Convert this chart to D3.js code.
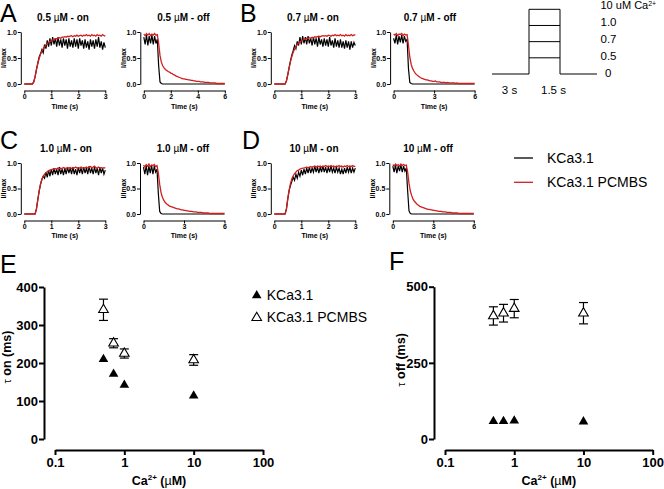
<!DOCTYPE html>
<html>
<head>
<meta charset="utf-8">
<script src="https://cdn.jsdelivr.net/npm/d3@7"></script>
<style>
  body { margin: 0; background: #fff; }
  svg { font-family: Arial, "Liberation Sans", sans-serif; }
</style>
</head>
<body>
<div id="chart"></div>
<script>
// sampling of the traces (s)
var onStep = 0.05;
var offStep = 0.1;

var concLabels = ["0.5", "0.7", "1.0", "10"];
var seriesNames = ["KCa3.1", "KCa3.1 PCMBS"];
var onTicks = [0, 1, 2, 3];
var offTicksA = [0, 2, 4, 6];
var offTicks = [0, 3, 6];

// normalized current traces (I/Imax)
var aOnBlack = [0,0,0,0,0,0,0,
  0.04,0.14,0.28,0.40,0.52,0.58,0.66,0.60,0.76,0.68,
  0.84,0.72,0.88,0.74,0.90,0.76,0.88,0.72,0.90,0.74,
  0.86,0.70,0.88,0.74,0.86,0.68,0.88,0.72,0.84,0.70,
  0.88,0.72,0.86,0.68,0.88,0.74,0.84,0.68,0.86,0.70,
  0.82,0.66,0.86,0.72,0.84,0.68,0.86,0.72,0.90,0.70,
  0.82,0.66,0.80,0.70];
var aOnRed = [0,0,0,0,0,0,0,
  0.04,0.14,0.27,0.39,0.49,0.57,0.63,0.68,0.72,0.75,
  0.78,0.80,0.82,0.83,0.85,0.85,0.87,0.87,0.88,0.89,
  0.88,0.90,0.90,0.91,0.90,0.92,0.91,0.92,0.93,0.91,
  0.93,0.92,0.94,0.92,0.93,0.94,0.92,0.94,0.93,0.95,
  0.93,0.94,0.92,0.95,0.93,0.94,0.92,0.95,0.93,0.94,
  0.92,0.95,0.93,0.92];
var aOffBlack = [0.90,0.76,0.94,0.74,0.92,0.78,0.94,0.76,0.92,0.78,
  0.86,0.35,0.04,0.01,0,0,0,0,0,0,
  0,0,0,0,0,0,0,0,0,0, 0,0,0,0,0,0,0,0,0,0,
  0,0,0,0,0,0,0,0,0,0, 0,0,0,0,0,0,0,0,0,0, 0];
var aOffRed = [0.96,0.93,0.97,0.94,0.97,0.93,0.96,0.94,0.97,0.94,
  0.95,0.78,0.55,0.42,0.35,0.31,0.28,0.26,0.24,0.23,
  0.21,0.20,0.18,0.17,0.15,0.14,0.13,0.12,0.11,0.10,
  0.10,0.09,0.09,0.08,0.08,0.07,0.07,0.06,0.06,0.05,
  0.05,0.05,0.04,0.04,0.04,0.03,0.03,0.03,0.03,0.02,
  0.02,0.02,0.02,0.02,0.01,0.01,0.01,0.01,0.01,0.01, 0.01];

var bOnBlack = [0,0,0,0,0,0,0,0,0,
  0.06,0.18,0.32,0.45,0.56,0.64,0.74,0.68,0.82,0.74,
  0.90,0.76,0.92,0.78,0.90,0.76,0.92,0.78,0.88,0.74,
  0.90,0.76,0.88,0.72,0.90,0.76,0.86,0.72,0.88,0.74,
  0.86,0.72,0.90,0.74,0.84,0.70,0.88,0.72,0.84,0.70,
  0.86,0.70,0.82,0.68,0.84,0.70,0.82,0.66,0.82,0.70,
  0.80,0.74];
var bOnRed = [0,0,0,0,0,0,0,0,0,
  0.06,0.18,0.31,0.43,0.53,0.61,0.67,0.72,0.76,0.79,
  0.81,0.83,0.84,0.86,0.86,0.88,0.87,0.89,0.88,0.90,
  0.89,0.91,0.90,0.91,0.92,0.91,0.92,0.93,0.92,0.93,
  0.92,0.94,0.93,0.92,0.94,0.93,0.95,0.93,0.94,0.93,
  0.95,0.93,0.94,0.92,0.95,0.93,0.94,0.93,0.95,0.93,
  0.94,0.95];
var bOffBlack = [0.88,0.78,0.94,0.76,0.92,0.80,0.94,0.78,0.92,0.82,
  0.86,0.30,0.03,0.01,0,0,0,0,0,0,
  0,0,0,0,0,0,0,0,0,0, 0,0,0,0,0,0,0,0,0,0,
  0,0,0,0,0,0,0,0,0,0, 0,0,0,0,0,0,0,0,0,0, 0];
var bOffRed = [0.96,0.94,0.97,0.93,0.96,0.95,0.97,0.93,0.96,0.94,
  0.95,0.75,0.52,0.38,0.30,0.25,0.21,0.18,0.16,0.14,
  0.12,0.11,0.10,0.09,0.08,0.08,0.07,0.06,0.06,0.05,
  0.05,0.06,0.04,0.04,0.04,0.03,0.03,0.03,0.03,0.02,
  0.03,0.02,0.02,0.02,0.02,0.02,0.01,0.02,0.01,0.01,
  0.01,0.01,0.01,0.01,0.01,0.01,0.01,0.01,0.01,0.01, 0.01];

var cOnBlack = [0,0,0,0,0,0,0,0,0,
  0.10,0.28,0.45,0.58,0.68,0.74,0.70,0.82,0.72,0.86,
  0.74,0.88,0.76,0.90,0.78,0.88,0.76,0.92,0.78,0.88,
  0.76,0.90,0.78,0.92,0.80,0.90,0.78,0.92,0.78,0.88,
  0.76,0.92,0.80,0.90,0.78,0.92,0.80,0.90,0.78,0.94,
  0.80,0.90,0.78,0.92,0.80,0.90,0.76,0.92,0.80,0.90,
  0.78,0.86];
var cOnRed = [0,0,0,0,0,0,0,0,0,
  0.10,0.28,0.45,0.58,0.67,0.74,0.78,0.81,0.83,0.85,
  0.86,0.87,0.88,0.88,0.89,0.88,0.90,0.89,0.90,0.89,
  0.91,0.90,0.89,0.91,0.90,0.91,0.89,0.91,0.90,0.92,
  0.90,0.91,0.90,0.92,0.90,0.91,0.90,0.92,0.90,0.91,
  0.93,0.91,0.92,0.94,0.91,0.90,0.92,0.90,0.91,0.90,
  0.91,0.90];
var cOffBlack = [0.92,0.78,0.95,0.76,0.94,0.80,0.95,0.78,0.94,0.82,
  0.88,0.40,0.05,0.01,0,0,0,0,0,0,
  0,0,0,0,0,0,0,0,0,0, 0,0,0,0,0,0,0,0,0,0,
  0,0,0,0,0,0,0,0,0,0, 0,0,0,0,0,0,0,0,0,0, 0];
var cOffRed = [0.96,0.92,0.97,0.94,0.98,0.93,0.96,0.95,0.97,0.93,
  0.95,0.80,0.58,0.42,0.33,0.27,0.23,0.20,0.18,0.16,
  0.15,0.14,0.13,0.12,0.11,0.10,0.10,0.09,0.08,0.08,
  0.07,0.07,0.06,0.06,0.05,0.05,0.05,0.04,0.04,0.04,
  0.03,0.03,0.03,0.03,0.02,0.02,0.02,0.02,0.02,0.01,
  0.01,0.01,0.01,0.01,0.01,0.01,0.01,0.01,0.01,0.01, 0.01];

var dOnBlack = [0,0,0,0,0,0,0,0,0,
  0.10,0.30,0.46,0.56,0.64,0.72,0.66,0.78,0.70,0.82,
  0.74,0.86,0.76,0.88,0.78,0.90,0.80,0.92,0.80,0.90,
  0.82,0.94,0.82,0.92,0.80,0.92,0.82,0.94,0.82,0.92,
  0.80,0.92,0.82,0.94,0.82,0.90,0.80,0.92,0.82,0.90,
  0.78,0.88,0.78,0.90,0.80,0.92,0.82,0.92,0.80,0.90,
  0.82,0.90];
var dOnRed = [0,0,0,0,0,0,0,0,0,
  0.10,0.30,0.47,0.60,0.69,0.75,0.79,0.82,0.85,0.86,
  0.88,0.89,0.90,0.90,0.91,0.92,0.91,0.92,0.93,0.92,
  0.93,0.94,0.92,0.94,0.93,0.94,0.92,0.94,0.93,0.95,
  0.93,0.94,0.93,0.95,0.93,0.94,0.92,0.94,0.93,0.95,
  0.93,0.94,0.92,0.94,0.93,0.95,0.93,0.94,0.93,0.95,
  0.93,0.94];
var dOffBlack = [0.94,0.82,0.96,0.80,0.94,0.84,0.96,0.82,0.94,0.84,
  0.90,0.45,0.06,0.01,0,0,0,0,0,0,
  0,0,0,0,0,0,0,0,0,0, 0,0,0,0,0,0,0,0,0,0,
  0,0,0,0,0,0,0,0,0,0, 0,0,0,0,0,0,0,0,0,0, 0];
var dOffRed = [0.97,0.94,0.98,0.95,0.97,0.94,0.98,0.95,0.97,0.95,
  0.96,0.82,0.60,0.45,0.36,0.29,0.25,0.22,0.19,0.17,
  0.15,0.14,0.13,0.12,0.11,0.10,0.09,0.09,0.08,0.08,
  0.07,0.07,0.06,0.06,0.05,0.05,0.05,0.04,0.04,0.04,
  0.03,0.03,0.03,0.03,0.02,0.02,0.02,0.02,0.02,0.01,
  0.01,0.01,0.01,0.01,0.01,0.01,0.01,0.01,0.01,0.01, 0.01];

// time constants vs [Ca2+]
var concentrations = [0.5, 0.7, 1, 10];
var tauOnKCa = [210, 171, 142, 114];
var tauOnPCMBS = [340, 252, 225, 208];
var tauOnPCMBSErr = [28, 12, 12, 14];
var tauOffKCa = [58, 58, 60, 57];
var tauOffPCMBS = [404, 413, 428, 413];
var tauOffPCMBSErr = [30, 29, 30, 35];
var caTicks = [0.1, 1, 10, 100];

// stimulation protocol
var protocolLevels = ["10 uM Ca", "1.0", "0.7", "0.5", "0"];
var protocolTimes = [0, 3, 4.5, 7.5];
var protocolDurations = ["3 s", "1.5 s"];

var RED = "#d01f1f";

var svg = d3.select("#chart").append("svg")
  .attr("width", 664)
  .attr("height", 489);

function styleAxis(g, size, weight, width) {
  g.selectAll("path, line").attr("stroke", "#000").attr("stroke-width", width);
  g.selectAll("text")
    .attr("font-family", "Arial, 'Liberation Sans', sans-serif")
    .attr("font-size", size)
    .attr("font-weight", weight)
    .attr("fill", "#000");
}

// ---------- small trace panels ----------
var rows = [
  {yTop: 32, yBottom: 84, axisY: 90.5, titleY: 21, labelY: 108.5},
  {yTop: 163, yBottom: 214, axisY: 220.5, titleY: 152, labelY: 237.5}
];

var smallPanels = [
  {row: 0, x0: 24.3, kind: "on", c: 0, black: aOnBlack, red: aOnRed, ticks: onTicks, tx: 63},
  {row: 0, x0: 143.8, kind: "off", c: 0, black: aOffBlack, red: aOffRed, ticks: offTicksA, tx: 183.5},
  {row: 0, x0: 274.3, kind: "on", c: 1, black: bOnBlack, red: bOnRed, ticks: onTicks, tx: 313},
  {row: 0, x0: 393.6, kind: "off", c: 1, black: bOffBlack, red: bOffRed, ticks: offTicks, tx: 430},
  {row: 1, x0: 24.3, kind: "on", c: 2, black: cOnBlack, red: cOnRed, ticks: onTicks, tx: 66},
  {row: 1, x0: 143.5, kind: "off", c: 2, black: cOffBlack, red: cOffRed, ticks: offTicks, tx: 183},
  {row: 1, x0: 274.3, kind: "on", c: 3, black: dOnBlack, red: dOnRed, ticks: onTicks, tx: 314},
  {row: 1, x0: 392.8, kind: "off", c: 3, black: dOffBlack, red: dOffRed, ticks: offTicks, tx: 428}
];

smallPanels.forEach(function(p) {
  var r = rows[p.row];
  var xMax = p.kind === "on" ? 3 : 6;
  var step = p.kind === "on" ? onStep : offStep;
  var x = d3.scaleLinear().domain([0, xMax]).range([p.x0, p.x0 + 81]);
  var y = d3.scaleLinear().domain([0, 1]).range([r.yBottom, r.yTop]);
  var g = svg.append("g");

  var line = d3.line()
    .x(function(d, i) { return x(i * step); })
    .y(function(d) { return y(d); });

  g.append("path").datum(p.black)
    .attr("d", line).attr("fill", "none")
    .attr("stroke", "#000").attr("stroke-width", 1.2)
    .attr("stroke-linejoin", "miter");
  g.append("path").datum(p.red)
    .attr("d", line).attr("fill", "none")
    .attr("stroke", RED).attr("stroke-width", 1.3);

  var yAx = g.append("g")
    .attr("transform", "translate(" + (p.x0 - 3.5) + ",0)")
    .call(d3.axisLeft(y).tickValues([0, 0.5, 1]).tickFormat(d3.format(".1f"))
      .tickSize(3).tickSizeOuter(0).tickPadding(1));
  styleAxis(yAx, 7, "bold", 1);

  var xAx = g.append("g")
    .attr("transform", "translate(0," + r.axisY + ")")
    .call(d3.axisBottom(x).tickValues(p.ticks).tickFormat(d3.format("d"))
      .tickSize(3).tickSizeOuter(0).tickPadding(1));
  styleAxis(xAx, 7, "bold", 1);

  g.append("text")
    .attr("x", p.x0 + 40.5).attr("y", r.labelY)
    .attr("text-anchor", "middle")
    .attr("font-size", 7).attr("font-weight", "bold")
    .text("Time (s)");

  g.append("text")
    .attr("transform", "translate(" + (p.x0 - 18) + "," + ((r.yTop + r.yBottom) / 2) + ") rotate(-90)")
    .attr("text-anchor", "middle")
    .attr("font-size", 7).attr("font-weight", "bold")
    .text("I/Imax");

  var t = g.append("text")
    .attr("x", p.tx).attr("y", r.titleY)
    .attr("text-anchor", "middle")
    .attr("font-size", 10).attr("font-weight", "bold");
  t.append("tspan").text(concLabels[p.c] + " ");
  t.append("tspan").attr("font-weight", "normal").text("\u00b5");
  t.append("tspan").text("M - " + p.kind);
});

// panel letters
var letters = [
  {s: "A", x: 0, y: 22}, {s: "B", x: 240, y: 22},
  {s: "C", x: 0, y: 148.5}, {s: "D", x: 242, y: 148.5},
  {s: "E", x: 0, y: 273}, {s: "F", x: 389, y: 270}
];
svg.selectAll("text.letter").data(letters).enter()
  .append("text").attr("class", "letter")
  .attr("x", function(d) { return d.x; })
  .attr("y", function(d) { return d.y; })
  .attr("font-size", 25)
  .text(function(d) { return d.s; });

// ---------- protocol sketch ----------
var px = d3.scaleLinear().domain(protocolTimes).range([492, 529, 560, 597]);
var py = d3.scalePoint().domain(protocolLevels).range([9.3, 74]);
var pyLabel = d3.scalePoint().domain(protocolLevels).range([5, 73.3]);
var baseLevel = protocolLevels[protocolLevels.length - 1];
var topLevel = protocolLevels[0];

svg.append("path")
  .attr("d", d3.line()([
    [px(protocolTimes[0]), py(baseLevel)], [px(protocolTimes[1]), py(baseLevel)],
    [px(protocolTimes[1]), py(topLevel)], [px(protocolTimes[2]), py(topLevel)],
    [px(protocolTimes[2]), py(baseLevel)], [px(protocolTimes[3]), py(baseLevel)]
  ]))
  .attr("fill", "none").attr("stroke", "#000").attr("stroke-width", 1);

svg.selectAll("line.level").data(protocolLevels.slice(1, 4)).enter()
  .append("line").attr("class", "level")
  .attr("x1", px(protocolTimes[1])).attr("x2", px(protocolTimes[2]))
  .attr("y1", function(d) { return py(d); })
  .attr("y2", function(d) { return py(d); })
  .attr("stroke", "#000").attr("stroke-width", 1);

var lvl = svg.selectAll("text.level").data(protocolLevels).enter()
  .append("text").attr("class", "level")
  .attr("x", function(d, i) { return i === protocolLevels.length - 1 ? 605 : 600.5; })
  .attr("y", function(d) { return pyLabel(d) + 4; })
  .attr("font-size", function(d, i) { return i === 0 ? 11 : 11.5; });
lvl.append("tspan").text(function(d) { return d; });
lvl.filter(function(d, i) { return i === 0; })
  .append("tspan").attr("font-size", 7).attr("dy", -3).text("2+");

svg.selectAll("text.dur").data(protocolDurations).enter()
  .append("text").attr("class", "dur")
  .attr("x", function(d, i) { return (px(protocolTimes[i]) + px(protocolTimes[i + 1])) / 2 + (i === 0 ? -1 : 9); })
  .attr("y", 93.5)
  .attr("text-anchor", "middle")
  .attr("font-size", 11.5)
  .text(function(d) { return d; });

// legend for traces
var legColors = ["#000", RED];
var leg = svg.selectAll("g.tleg").data(seriesNames).enter()
  .append("g").attr("class", "tleg")
  .attr("transform", function(d, i) { return "translate(0," + (158 + i * 24.3) + ")"; });
leg.append("line").attr("x1", 514).attr("x2", 533)
  .attr("stroke", function(d, i) { return legColors[i]; }).attr("stroke-width", 1.3);
leg.append("text").attr("x", 547).attr("y", 4.5).attr("font-size", 14)
  .text(function(d) { return d; });

// ---------- tau panels ----------
function tauPanel(opt) {
  var x = d3.scaleLog().domain([0.1, 100]).range([opt.xl, opt.xr]);
  var y = d3.scaleLinear().domain([0, opt.yMax]).range([439, opt.yTop]);
  var g = svg.append("g");

  var yAx = g.append("g").attr("transform", "translate(" + opt.yAxisX + ",0)")
    .call(d3.axisLeft(y).tickValues(opt.yTicks).tickSize(5).tickSizeOuter(0).tickPadding(1));
  styleAxis(yAx, 13, "bold", 2);
  var xAx = g.append("g").attr("transform", "translate(0,450)")
    .call(d3.axisBottom(x).tickValues(caTicks).tickFormat(function(d) { return String(d); })
      .tickSize(5).tickSizeOuter(0).tickPadding(3));
  styleAxis(xAx, 13, "bold", 2);

  // x label
  var xl = g.append("text").attr("x", (opt.xl + opt.xr) / 2).attr("y", 485)
    .attr("text-anchor", "middle").attr("font-size", 12.5).attr("font-weight", "bold");
  xl.append("tspan").text("Ca");
  xl.append("tspan").attr("font-size", 8).attr("dy", -5).text("2+");
  xl.append("tspan").attr("dy", 5).text(" (");
  xl.append("tspan").attr("font-weight", "normal").text("\u00b5");
  xl.append("tspan").text("M)");

  // y label
  var yl = g.append("text")
    .attr("transform", "translate(" + opt.ylabX + "," + opt.ylabY + ") rotate(-90)")
    .attr("text-anchor", "middle").attr("font-size", 12.5).attr("font-weight", "bold");
  yl.append("tspan").attr("font-weight", "normal").attr("font-size", 11).text("\u03c4");
  yl.append("tspan").text(" " + opt.label + " (ms)");

  var tri = d3.symbol().type(d3.symbolTriangle).size(40);

  // error bars of PCMBS
  var eb = g.selectAll("g.eb").data(concentrations).enter().append("g");
  eb.append("line")
    .attr("x1", function(d) { return x(d); }).attr("x2", function(d) { return x(d); })
    .attr("y1", function(d, i) { return y(opt.open[i] + opt.err[i]); })
    .attr("y2", function(d, i) { return y(opt.open[i] - opt.err[i]); })
    .attr("stroke", "#000").attr("stroke-width", 1.2);
  [1, -1].forEach(function(sgn) {
    eb.append("line")
      .attr("x1", function(d) { return x(d) - 4.5; }).attr("x2", function(d) { return x(d) + 4.5; })
      .attr("y1", function(d, i) { return y(opt.open[i] + sgn * opt.err[i]); })
      .attr("y2", function(d, i) { return y(opt.open[i] + sgn * opt.err[i]); })
      .attr("stroke", "#000").attr("stroke-width", 1.2);
  });

  g.selectAll("path.open").data(concentrations).enter()
    .append("path").attr("class", "open")
    .attr("d", tri)
    .attr("transform", function(d, i) { return "translate(" + x(d) + "," + y(opt.open[i]) + ")"; })
    .attr("fill", "#fff").attr("stroke", "#000").attr("stroke-width", 1.1);

  g.selectAll("path.filled").data(concentrations).enter()
    .append("path").attr("class", "filled")
    .attr("d", tri)
    .attr("transform", function(d, i) { return "translate(" + x(d) + "," + y(opt.filled[i]) + ")"; })
    .attr("fill", "#000");

  return tri;
}

var triE = tauPanel({
  xl: 55, xr: 263, yAxisX: 44, yTop: 287, yMax: 400, yTicks: [0, 100, 200, 300, 400],
  label: "on", ylabX: 11, ylabY: 357,
  open: tauOnPCMBS, err: tauOnPCMBSErr, filled: tauOnKCa
});
tauPanel({
  xl: 445, xr: 652.7, yAxisX: 434, yTop: 286.7, yMax: 500, yTicks: [0, 250, 500],
  label: "off", ylabX: 404.5, ylabY: 360,
  open: tauOffPCMBS, err: tauOffPCMBSErr, filled: tauOffKCa
});

// legend for symbols
var sleg = svg.selectAll("g.sleg").data(seriesNames).enter()
  .append("g").attr("class", "sleg")
  .attr("transform", function(d, i) { return "translate(256.7," + (295.5 + i * 22.3) + ")"; });
sleg.append("path").attr("d", triE)
  .attr("fill", function(d, i) { return i === 0 ? "#000" : "#fff"; })
  .attr("stroke", "#000").attr("stroke-width", function(d, i) { return i === 0 ? 0 : 1.1; });
sleg.append("text").attr("x", 10).attr("y", 4.5).attr("font-size", 14)
  .text(function(d) { return d; });
</script>
</body>
</html>
